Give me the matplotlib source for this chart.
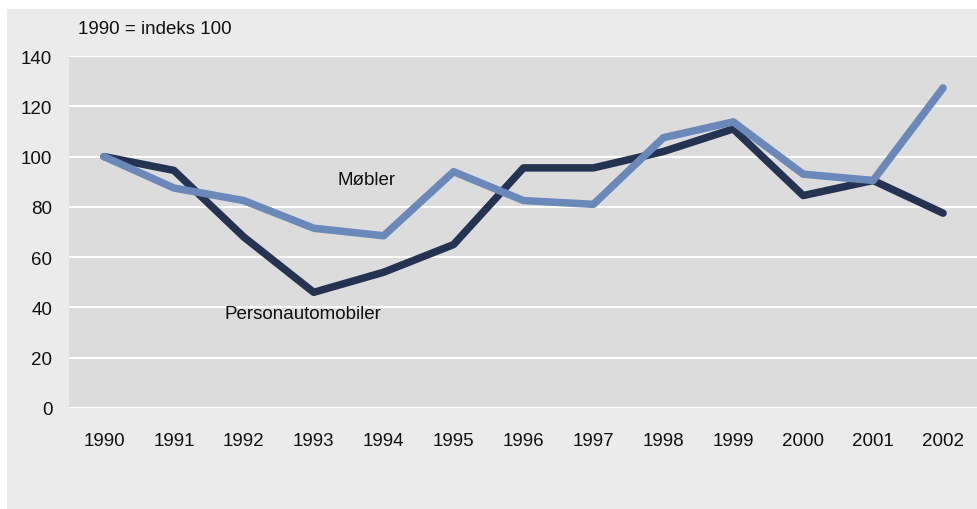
import numpy as np
import matplotlib.pyplot as plt
from matplotlib.patches import Rectangle

plt.rcParams['font.family'] = ['Liberation Sans', 'DejaVu Sans']

years = ["1990", "1991", "1992", "1993", "1994", "1995", "1996",
         "1997", "1998", "1999", "2000", "2001", "2002"]
personautomobiler = [100, 94.5, 68, 46, 54, 65, 95.5, 95.5, 102, 111, 84.5, 90.5, 77.5]
mobler = [100, 87.5, 82.5, 71.5, 68.5, 94, 82.5, 81, 107.5, 113.8, 93, 90.5, 127.3]
yticks = [0, 20, 40, 60, 80, 100, 120, 140]

dark = "#243352"
light = "#6a88b9"

fig = plt.figure(figsize=(9.78, 5.10), dpi=100)
fig.patch.set_facecolor("white")
fig.patches.append(Rectangle((7 / 978, 0), 1, 500 / 510, transform=fig.transFigure,
                             facecolor="#ebebeb", edgecolor="none", zorder=-10))

ax = fig.add_axes([69 / 978, 101 / 510, 909 / 978, 352 / 510])
ax.set_facecolor("#dcdcdc")

x = np.arange(len(years))
ax.plot(x, personautomobiler, color=dark, lw=5.4, solid_capstyle="round",
        solid_joinstyle="round", zorder=3)
ax.plot(x, mobler, color=light, lw=5.4, solid_capstyle="round",
        solid_joinstyle="round", zorder=4)

ax.set_xlim(-0.5, len(years) - 0.5)
ax.set_ylim(0, 140)
ax.set_yticks(yticks)
ax.set_xticks(x)
ax.set_xticklabels(years)
ax.grid(axis="y", color="white", lw=1.5, zorder=1)
ax.set_axisbelow(True)
for s in ax.spines.values():
    s.set_visible(False)
ax.tick_params(length=0, labelsize=13.5, colors="#111111")
ax.tick_params(axis="y", pad=12)
ax.tick_params(axis="x", pad=17)

ax.text(3.75, 91, "Møbler", fontsize=13.5, ha="center", va="center", color="#111111")
ax.text(2.85, 37.5, "Personautomobiler", fontsize=13.5, ha="center", va="center", color="#111111")
fig.text(78 / 978, 1 - 30 / 510, "1990 = indeks 100", fontsize=13.5, ha="left",
         va="center", color="#111111")

fig.savefig("out.png", dpi=100)
